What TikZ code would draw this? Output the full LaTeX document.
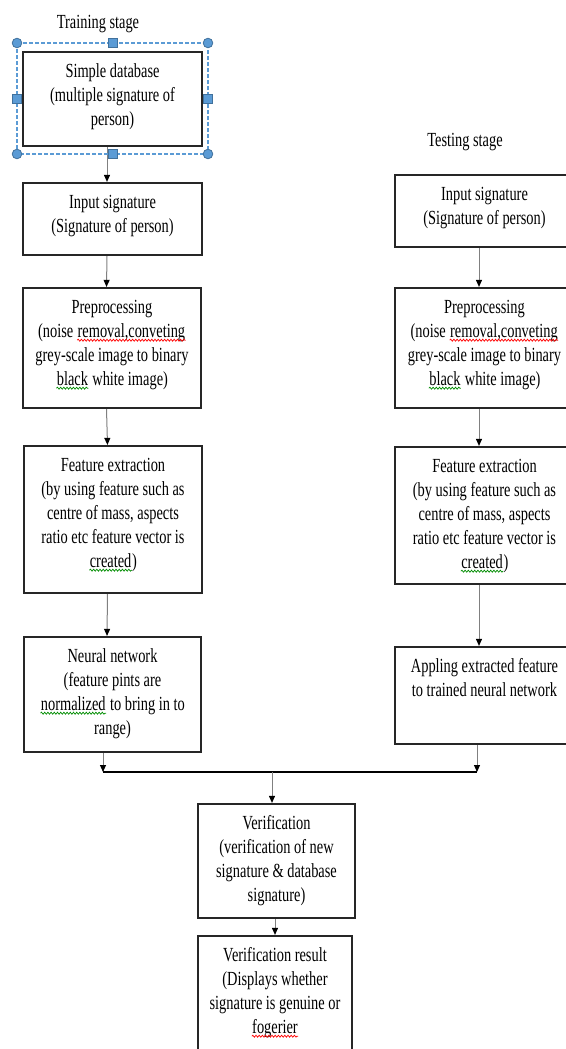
\documentclass[tikz,border=0pt]{standalone}
\usepackage{fontspec}
\setmainfont{Liberation Serif}[FakeStretch=0.72]
\usetikzlibrary{arrows.meta,calc,decorations.pathmorphing}
\definecolor{selblue}{RGB}{91,155,213}
\definecolor{seledge}{RGB}{65,113,156}
% spell check waves under a word
\newcommand{\wavy}[2]{\tikz[baseline=(w.base)]{\node[inner sep=0pt] (w) {#2};
  \draw[#1,line width=0.35pt,decorate,decoration={snake,amplitude=0.5pt,segment length=1.6pt}] ([yshift=-1.4pt]w.base west) -- ([yshift=-1.4pt]w.base east);}}
\newcommand{\redwave}[1]{\wavy{red}{#1}}
\newcommand{\greenwave}[1]{\wavy{green!55!black}{#1}}
% box text: width, height, lines (top aligned like the word boxes)
\newcommand{\bx}[3]{\parbox[c][#2][t]{#1}{\centering\vspace*{4.3pt}\strut #3}}
\tikzset{
  >={Triangle[length=3.5pt,width=3pt,color=black]},
  blk/.style={draw=black!85,line width=1.1pt,inner sep=0pt},
  arr/.style={->,draw=gray,line width=0.5pt},
  jn/.style={black,line width=1.2pt},
  hdl/.style={draw=seledge,fill=selblue,line width=0.4pt},
}
\begin{document}
\begin{tikzpicture}[x=5pt,y=-5pt]
\useasboundingbox (0,0) rectangle (56.6,104.9);
\node (ttrain) at (9.8,2.4){Training stage};
\node (ttest) at (46.5,14.2){Testing stage};
% training stage
\node[blk] (db) at (11.25,9.9){\bx{89.5pt}{47pt}{Simple database\\(multiple signature of\\person)}};
\node[blk] (lin) at (11.25,21.9){\bx{89.5pt}{36pt}{Input signature\\(Signature of person)}};
\node[blk] (lpre) at (11.2,34.8){\bx{89pt}{60pt}{Preprocessing\\(noise \redwave{removal,conveting}\\grey-scale image to binary\\\greenwave{black} white image)}};
\node[blk] (lfe) at (11.3,51.95){\bx{89pt}{73.5pt}{Feature extraction\\(by using feature such as\\centre of mass, aspects\\ratio etc feature vector is\\\greenwave{created})}};
\node[blk] (nn) at (11.25,69.45){\bx{88.5pt}{57.5pt}{Neural network\\(feature pints are\\\greenwave{normalized} to bring in to\\range)}};
% testing stage
\node[blk] (rin) at (48.45,21.1){\bx{89.5pt}{36pt}{Input signature\\(Signature of person)}};
\node[blk] (rpre) at (48.45,34.8){\bx{89.5pt}{60pt}{Preprocessing\\(noise \redwave{removal,conveting}\\grey-scale image to binary\\\greenwave{black} white image)}};
\node[blk] (rfe) at (48.45,51.55){\bx{89.5pt}{68.5pt}{Feature extraction\\(by using feature such as\\centre of mass, aspects\\ratio etc feature vector is\\\greenwave{created})}};
\node[blk] (app) at (48.45,69.55){\bx{89.5pt}{48.5pt}{Appling extracted feature\\to trained neural network}};
% verification
\node[blk] (ver) at (27.65,86.1){\bx{78.5pt}{57pt}{Verification\\(verification of new\\signature \& database\\signature)}};
\node[blk] (res) at (27.5,100.3){\bx{77pt}{67pt}{Verification result\\(Displays whether\\signature is genuine or\\\redwave{fogerier}}};
\draw[arr] ([xshift=-2.75pt]db.south) -- ([xshift=-2.75pt]lin.north);
\draw[arr] ([xshift=-2.75pt]lin.south) -- ([xshift=-2.75pt]lpre.north);
\draw[arr] ([xshift=-2.75pt]lpre.south) -- ([xshift=-2.75pt]lfe.north);
\draw[arr] ([xshift=-2.75pt]lfe.south) -- ([xshift=-2.75pt]nn.north);
\draw[arr] ([xshift=-2.75pt]rin.south) -- ([xshift=-2.75pt]rpre.north);
\draw[arr] ([xshift=-2.75pt]rpre.south) -- ([xshift=-2.75pt]rfe.north);
\draw[arr] ([xshift=-2.75pt]rfe.south) -- ([xshift=-2.75pt]app.north);
\coordinate (jl) at (10.3,77.2); \coordinate (jr) at (47.7,77.2); \coordinate (jm) at (27.2,77.2);
\draw[arr] (nn.south -| jl) -- (jl);
\draw[arr] (app.south -| jr) -- (jr);
\draw[jn] (jl) -- (jr);
\draw[arr] (jm) -- (ver.north -| jm);
\draw[arr] (ver.south -| res.north) -- (res.north);
% selection handles round the database box
\draw[selblue,dash pattern=on 2pt off 1pt,line width=0.6pt] (1.7,4.3) rectangle (20.8,15.4);
\foreach \p in {(1.7,4.3),(20.8,4.3),(1.7,15.4),(20.8,15.4)} \filldraw[hdl] \p circle[radius=2.4pt];
\foreach \p in {(11.25,4.3),(11.25,15.4),(1.7,9.9),(20.8,9.9)} \filldraw[hdl] \p ++(-2.25pt,-2.25pt) rectangle ++(4.5pt,4.5pt);
\end{tikzpicture}
\end{document}
